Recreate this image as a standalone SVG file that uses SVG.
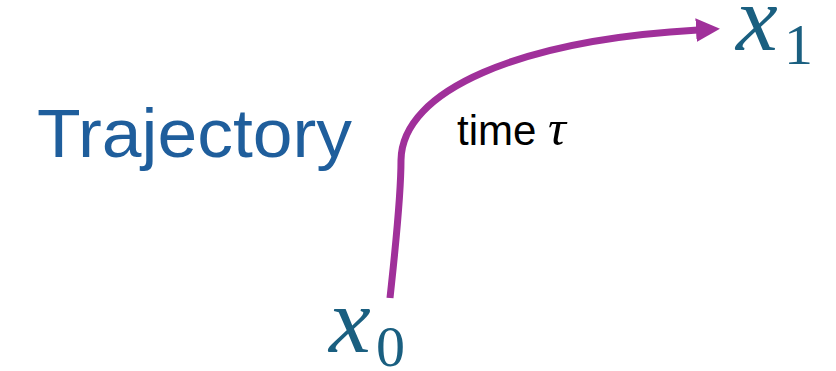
<svg xmlns="http://www.w3.org/2000/svg" width="836" height="371" viewBox="0 0 836 371">
<style>
.math{font-family:"Liberation Serif","DejaVu Serif",serif;fill:#1A5F80}
.mi{font-style:italic;font-size:94px}
.sub{font-size:58px}
.conn{fill:none;stroke:#A0309A;stroke-width:7;stroke-linecap:butt}
</style>
<defs>
<marker id="ah" markerUnits="userSpaceOnUse" markerWidth="26" markerHeight="26" refX="2" refY="12" orient="auto">
<path d="M0,0 L24,12 L0,24 z" fill="#A0309A"/>
</marker>
</defs>
<rect width="836" height="371" fill="#fff"/>
<g id="title">
<text x="37" y="157" font-family="Liberation Sans, Arial, sans-serif" font-size="69" fill="#1F5E9C" textLength="315" lengthAdjust="spacingAndGlyphs">Trajectory</text>
</g>
<g id="connectors">
<path class="conn" d="M 390 298 C 394 260, 401 200, 401 160 C 402 90, 520 40, 698 30" marker-end="url(#ah)"/>
</g>
<g id="label-time">
<text x="457" y="145" font-family="Liberation Sans, Arial, sans-serif" font-size="42" fill="#000">time <tspan font-family="Liberation Serif, serif" font-style="italic" font-size="50">τ</tspan></text>
</g>
<g id="x1">
<text class="math mi" x="736" y="50">x</text>
<text class="math sub" x="784" y="64">1</text>
</g>
<g id="x0">
<text class="math mi" x="329" y="352">x</text>
<text class="math sub" x="376" y="366">0</text>
</g>
</svg>
